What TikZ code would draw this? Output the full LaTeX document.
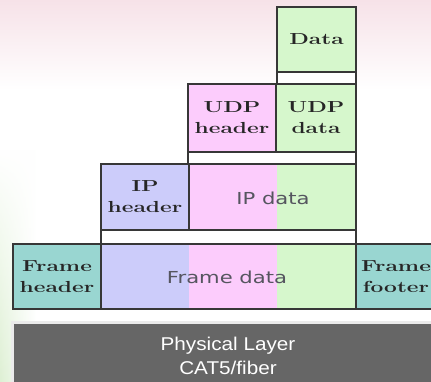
\documentclass[tikz,border=0pt]{standalone}
\usepackage{fontspec}
\usepackage{graphicx}
\usetikzlibrary{fadings}
\newfontfamily\physfont{Liberation Sans}
\newfontfamily\datafont{DejaVu Sans}
\definecolor{bordc}{RGB}{55,55,55}
\definecolor{cteal}{RGB}{153,214,209}
\definecolor{cblue}{RGB}{204,204,250}
\definecolor{cpink}{RGB}{252,204,252}
\definecolor{cgreen}{RGB}{214,247,204}
\definecolor{cgray}{RGB}{102,102,102}
\definecolor{bgpink}{RGB}{246,226,232}
\definecolor{bggreen}{RGB}{222,240,212}
\definecolor{dtext}{RGB}{85,85,95}
\newcommand\wideser[1]{\scalebox{1.42}[1]{#1}}
\newcommand\widesan[1]{\scalebox{1.28}[1]{#1}}
\newcommand\widephy[1]{\scalebox{1.12}[1]{#1}}
\tikzset{
  cell/.style={draw=bordc, line width=1.4pt, anchor=north west, inner sep=0pt, outer sep=0pt, align=center,
    font=\fontsize{16}{21}\selectfont\bfseries, text=black!85},
  sanslabel/.style={font=\datafont\fontsize{16.5}{20}\selectfont, text=dtext},
  physbox/.style={draw=white!92!black, line width=2.5pt, fill=cgray, anchor=north west, inner sep=0pt},
  phystext/.style={font=\physfont\fontsize{18.5}{24}\selectfont, text=white, align=center}
}
\begin{document}
\begin{tikzpicture}[x=1pt,y=-1pt]
\useasboundingbox (0,0) rectangle (431,382);
\clip (0,0) rectangle (431,382);
\fill[white] (0,0) rectangle (431,382);
\shade[top color=bgpink, bottom color=white] (0,0) rectangle (431,90);
\shade[left color=bggreen, right color=white, path fading=north] (0,150) rectangle (36,382);

% Application data
\node[cell, fill=cgreen, minimum width=79, minimum height=65] (data) at (277,7) {\wideser{Data}};
\node[cell, fill=white, minimum width=79, minimum height=12] (strip1) at (277,72) {};

% UDP
\node[cell, fill=cpink, minimum width=88, minimum height=68] (udph) at (188,84) {\wideser{UDP}\\\wideser{header}};
\node[cell, fill=cgreen, minimum width=80, minimum height=68] (udpd) at (276,84) {\wideser{UDP}\\\wideser{data}};
\node[cell, fill=white, minimum width=168, minimum height=12] (strip2) at (188,152) {};

% IP
\node[cell, fill=cblue, minimum width=88, minimum height=66] (iph) at (101,164) {\wideser{IP}\\\wideser{header}};
\fill[cpink] (189,164) rectangle (277,230);
\fill[cgreen] (277,164) rectangle (356,230);
\node[cell, minimum width=167, minimum height=66] (ipd) at (189,164) {};
\node[sanslabel] (ipdtext) at (273,198) {\widesan{IP data}};
\node[cell, fill=white, minimum width=255, minimum height=14] (strip3) at (101,230) {};

% Frame
\node[cell, fill=cteal, minimum width=88, minimum height=65] (frh) at (13,244) {\wideser{Frame}\\\wideser{header}};
\fill[cblue] (101,244) rectangle (189,309);
\fill[cpink] (189,244) rectangle (277,309);
\fill[cgreen] (277,244) rectangle (356,309);
\node[cell, minimum width=255, minimum height=65] (frd) at (101,244) {};
\node[sanslabel] (frdtext) at (227,277) {\widesan{Frame data}};
\node[cell, fill=cteal, minimum width=80, minimum height=65] (frf) at (356,244) {\wideser{Frame}\\\wideser{footer}};

% Physical
\node[physbox, minimum width=440, minimum height=80] (phys) at (11,321) {};
\node[phystext] (physt) at (228,356) {\widephy{Physical Layer}\\\widephy{CAT5/fiber}};
\end{tikzpicture}
\end{document}
